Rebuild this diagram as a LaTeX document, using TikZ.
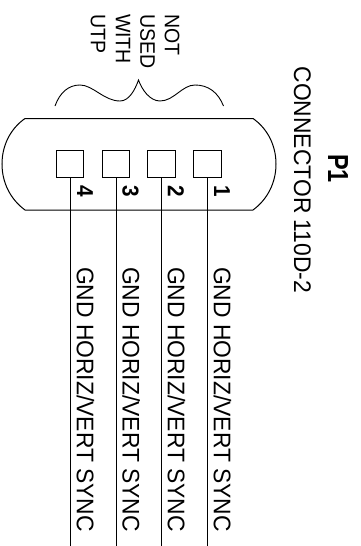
\documentclass[tikz,border=0pt]{standalone}
\usepackage{graphicx}
\usepackage{fontspec}
\setmainfont{Liberation Sans}
\newcommand{\sq}[2]{\scalebox{#1}[1]{#2}}
\tikzset{
  pinbox/.style={draw,line width=1pt,minimum width=27.5pt,minimum height=27pt,inner sep=0pt,outer sep=0pt},
  wire/.style={line width=1pt},
  lbl/.style={rotate=-90,anchor=west,inner sep=0pt,outer sep=0pt},
  siglbl/.style={lbl,font=\fontsize{24}{26}\selectfont},
  notelbl/.style={lbl,font=\fontsize{21}{23}\selectfont},
  numlbl/.style={rotate=-90,anchor=center,inner sep=0pt,font=\fontsize{23}{25}\selectfont\bfseries},
  titlelbl/.style={lbl,font=\fontsize{29}{31}\selectfont\bfseries}
}
\begin{document}
\begin{tikzpicture}[x=1pt,y=-1pt]
\useasboundingbox (0,0) rectangle (360,546);
% connector body
\draw[wire] (25,118.5) -- (253,118.5)
  .. controls (268,129) and (276,146) .. (276,164)
  .. controls (276,182) and (268,199) .. (253,210)
  -- (25,210)
  .. controls (10,199) and (2,182) .. (2,164)
  .. controls (2,146) and (10,129) .. (25,118.5) -- cycle;
% brace
\draw[line width=0.9pt] (55,106) .. controls (60,92) and (69,85) .. (80,85)
  .. controls (93,85) and (104,101) .. (120,101)
  .. controls (129,101) and (135,90) .. (138.5,80)
  .. controls (142,90) and (150,101) .. (160,101)
  .. controls (174,101) and (182,85) .. (195,85)
  .. controls (208,85) and (218,92) .. (223.5,106);
% pins
\node[pinbox] (p4) at (70,164.3) {};
\node[pinbox] (p3) at (116,164.3) {};
\node[pinbox] (p2) at (161.5,164.3) {};
\node[pinbox] (p1) at (207.5,164.3) {};
\coordinate (e4) at (70,546);
\coordinate (e3) at (116,546);
\coordinate (e2) at (161.5,546);
\coordinate (e1) at (207.5,546);
\draw[wire] (p4.south) -- (e4);
\draw[wire] (p3.south) -- (e3);
\draw[wire] (p2.south) -- (e2);
\draw[wire] (p1.south) -- (e1);
% numbers
\node[numlbl] (n4) at (85,191) {\sq{.9}{4}};
\node[numlbl] (n3) at (130.6,191) {\sq{.9}{3}};
\node[numlbl] (n2) at (176,191) {\sq{.9}{2}};
\node[numlbl] (n1) at (222,191) {\sq{.9}{1}};
% signals
\node[siglbl] (s4) at (85.5,267) {\sq{.952}{GND HORIZ/VERT SYNC}};
\node[siglbl] (s3) at (131.1,267) {\sq{.952}{GND HORIZ/VERT SYNC}};
\node[siglbl] (s2) at (176.5,267) {\sq{.952}{GND HORIZ/VERT SYNC}};
\node[siglbl] (s1) at (222.5,267) {\sq{.952}{GND HORIZ/VERT SYNC}};
% note
\node[notelbl] (u1) at (172,14) {\sq{.93}{NOT}};
\node[notelbl] (u2) at (147.5,14) {\sq{.93}{USED}};
\node[notelbl] (u3) at (123,14) {\sq{.93}{WITH}};
\node[notelbl] (u4) at (98,14) {\sq{.93}{UTP}};
% title
\node[siglbl] (c) at (302.5,66.7) {\sq{.952}{CONNECTOR 110D-2}};
\node[titlelbl] (t) at (338,154) {\sq{.81}{P1}};
\end{tikzpicture}
\end{document}
